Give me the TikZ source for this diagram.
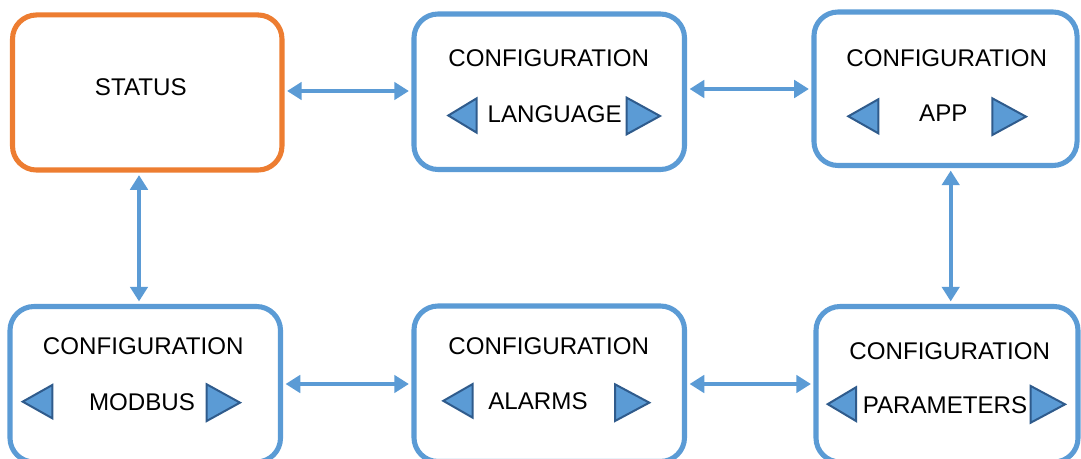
\documentclass[tikz,border=0pt]{standalone}
\usepackage{fontspec}
\setmainfont{Liberation Sans}
\usetikzlibrary{arrows.meta}
\definecolor{boxblue}{HTML}{5B9BD5}
\definecolor{boxorange}{HTML}{ED7D31}
\definecolor{tridark}{HTML}{2F5B8C}
\newcommand\lefttri[4]{\draw[tri] (#1,{(#3+#4)/2}) -- (#2,#3) -- (#2,#4) -- cycle;}
\newcommand\righttri[4]{\draw[tri] (#2,{(#3+#4)/2}) -- (#1,#3) -- (#1,#4) -- cycle;}
\begin{document}
\begin{tikzpicture}[x=0.75pt,y=-0.75pt,
  box/.style={draw=boxblue,line width=3.8pt,rounded corners=18pt,fill=white,inner sep=0pt},
  statusbox/.style={box,draw=boxorange},
  lbl/.style={font=\fontsize{18.1}{20}\selectfont,inner sep=0pt,anchor=center},
  conn/.style={draw=boxblue,line width=2.8pt,{Triangle[length=11pt,width=13pt]}-{Triangle[length=11pt,width=13pt]},shorten <=1.9pt,shorten >=1.9pt},
  tri/.style={fill=boxblue,draw=tridark,line width=1.5pt,line join=miter}]
\useasboundingbox (0,0) rectangle (1081,459);
\clip (0,0) rectangle (1081,459);
% boxes
\node[statusbox,minimum width=202.1pt,minimum height=116.3pt] (status) at (147.25,92.5) {};
\node[box,minimum width=202.9pt,minimum height=116.6pt] (language) at (549.25,91.75) {};
\node[box,minimum width=197.3pt,minimum height=115.1pt] (app) at (945.5,88.75) {};
\node[box,minimum width=202.9pt,minimum height=116.6pt] (modbus) at (145.25,384.25) {};
\node[box,minimum width=202.9pt,minimum height=116.6pt] (alarms) at (549.25,383.75) {};
\node[box,minimum width=196.5pt,minimum height=116.6pt] (params) at (947,384.25) {};
% texts
\node[lbl] (tstatus) at (140.8,87) {STATUS};
\node[lbl] (clang) at (548.8,58.3) {CONFIGURATION};
\node[lbl] (tlang) at (554.7,113.7) {LANGUAGE};
\node[lbl] (capp) at (946.7,58.3) {CONFIGURATION};
\node[lbl] (tapp) at (943.3,113.7) {APP};
\node[lbl] (cmod) at (143.3,345.7) {CONFIGURATION};
\node[lbl] (tmod) at (142,401.7) {MODBUS};
\node[lbl] (calarm) at (548.8,345.7) {CONFIGURATION};
\node[lbl] (talarm) at (538,401.2) {ALARMS};
\node[lbl] (cpar) at (949.7,350.7) {CONFIGURATION};
\node[lbl] (tpar) at (945,405) {PARAMETERS};
% triangles
\lefttri{448.3}{476.7}{98.3}{132.7}
\righttri{626.7}{660}{97.7}{134.3}
\lefttri{848.3}{878.3}{99.3}{133.3}
\righttri{992.3}{1026}{98.3}{135}
\lefttri{22.7}{52.3}{385}{418.3}
\righttri{206.7}{240}{384.3}{421}
\lefttri{443.3}{472.7}{384}{417.7}
\righttri{615}{649.3}{384.3}{421}
\lefttri{827.7}{856}{387.3}{421}
\righttri{1030.7}{1065}{386}{422.7}
% connector lines
\coordinate (r1) at (0,91);
\coordinate (r2) at (0,89);
\coordinate (r3) at (0,384);
\coordinate (c1) at (139,0);
\coordinate (c2) at (950.7,0);
\draw[conn] (status.east |- r1) -- (language.west |- r1);
\draw[conn] (language.east |- r2) -- (app.west |- r2);
\draw[conn] (status.south -| c1) -- (modbus.north -| c1);
\draw[conn] (app.south -| c2) -- (params.north -| c2);
\draw[conn] (modbus.east |- r3) -- (alarms.west |- r3);
\draw[conn] (alarms.east |- r3) -- (params.west |- r3);
\end{tikzpicture}
\end{document}
